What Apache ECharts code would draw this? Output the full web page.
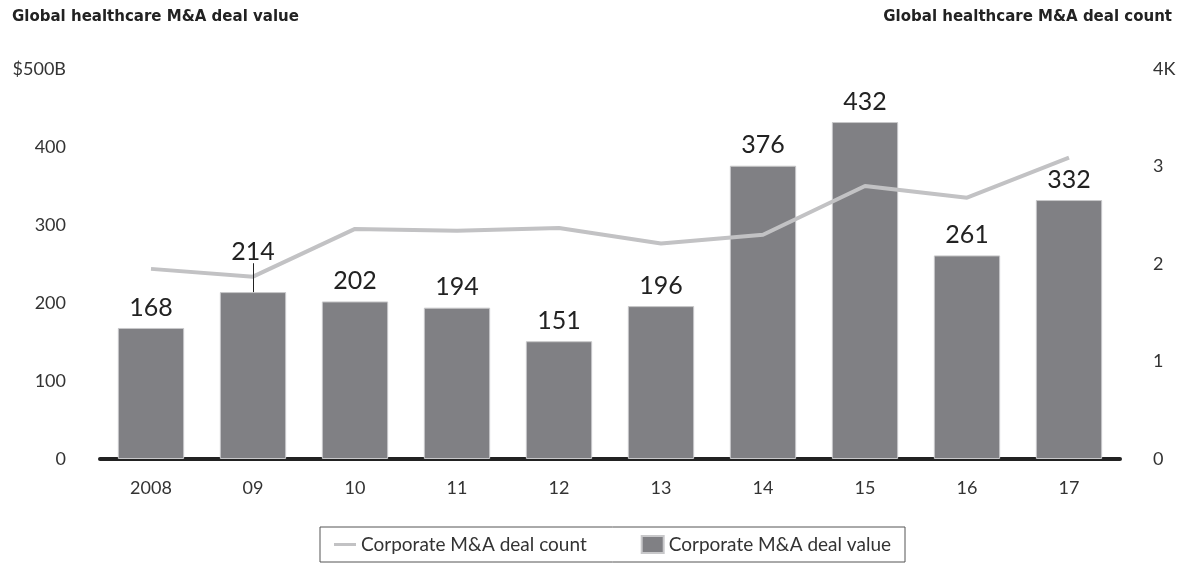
<!DOCTYPE html>
<html>
<head>
<meta charset="utf-8">
<script src="https://cdn.jsdelivr.net/npm/echarts@6/dist/echarts.min.js"></script>
<style>
  html, body { margin: 0; padding: 0; background: #fff; }
  #chart { width: 1184px; height: 569px; }
</style>
</head>
<body>
<div id="chart"></div>
<script>
// data
var years = ['2008', '09', '10', '11', '12', '13', '14', '15', '16', '17'];
var dealValue = [168, 214, 202, 194, 151, 196, 376, 432, 261, 332]; // $B
var dealCount = [1.95, 1.87, 2.36, 2.34, 2.37, 2.21, 2.30, 2.80, 2.68, 3.09]; // K

var font = 'Lato, "Open Sans", sans-serif';
var titleFont = '"DejaVu Sans", sans-serif';

var myChart = echarts.init(document.getElementById('chart'));

// the 2009 label sits higher, with a small leader line down to the bar
var barData = dealValue.map(function (v, i) {
    if (i === 1) return { value: v, label: { distance: 28 } };
    return v;
});

var option = {
    animation: false,
    textStyle: { fontFamily: font },
    title: [
        { text: 'Global healthcare M&A deal value', left: 7, top: 5,
          textStyle: { fontSize: 15, fontWeight: 'bold', color: '#222', fontFamily: titleFont } },
        { text: 'Global healthcare M&A deal count', right: 7, top: 5,
          textStyle: { fontSize: 15, fontWeight: 'bold', color: '#222', fontFamily: titleFont } }
    ],
    grid: { left: 100, right: 64, top: 69, bottom: 110 },
    legend: {
        bottom: 7,
        left: 320,
        padding: [8, 14, 8, 14],
        borderColor: '#555',
        borderWidth: 1,
        borderRadius: 0,
        itemGap: 54,
        itemWidth: 22,
        itemHeight: 17,
        textStyle: { fontSize: 19, color: '#333', fontFamily: font },
        data: [
            { name: 'Corporate M&A deal count', icon: 'path://M0,7 L22,7 L22,10 L0,10 Z' },
            { name: 'Corporate M&A deal value', icon: 'rect' }
        ]
    },
    xAxis: {
        type: 'category',
        data: years,
        axisLine: { lineStyle: { color: '#222', width: 4 } },
        axisTick: { show: false },
        axisLabel: { fontSize: 18, color: '#333', margin: 20 }
    },
    yAxis: [
        {
            type: 'value', min: 0, max: 500, interval: 100,
            splitLine: { show: false },
            axisLine: { show: false },
            axisLabel: {
                fontSize: 18, color: '#333', margin: 34,
                formatter: function (v) { return v === 500 ? '$500B' : v; }
            }
        },
        {
            type: 'value', min: 0, max: 4, interval: 1,
            splitLine: { show: false },
            axisLine: { show: false },
            axisLabel: {
                fontSize: 18, color: '#333', margin: 33,
                formatter: function (v) { return v === 4 ? '4K' : v; }
            }
        }
    ],
    series: [
        {
            name: 'Corporate M&A deal value',
            type: 'bar',
            data: barData,
            barWidth: '65%',
            itemStyle: { color: '#808084', borderColor: '#c8c8ca', borderWidth: 1 },
            label: {
                show: true, position: 'top', distance: 8,
                fontSize: 25, color: '#222', fontFamily: font
            },
            markLine: {
                silent: true,
                symbol: 'none',
                label: { show: false },
                lineStyle: { color: '#222', width: 1, type: 'solid' },
                data: [[{ coord: ['09', dealValue[1]] }, { coord: ['09', 251] }]]
            },
            z: 2
        },
        {
            name: 'Corporate M&A deal count',
            type: 'line',
            yAxisIndex: 1,
            data: dealCount,
            symbol: 'none',
            lineStyle: { color: '#c2c2c4', width: 4 },
            itemStyle: { color: '#c2c2c4' },
            z: 3
        }
    ]
};

myChart.setOption(option);
</script>
</body>
</html>
